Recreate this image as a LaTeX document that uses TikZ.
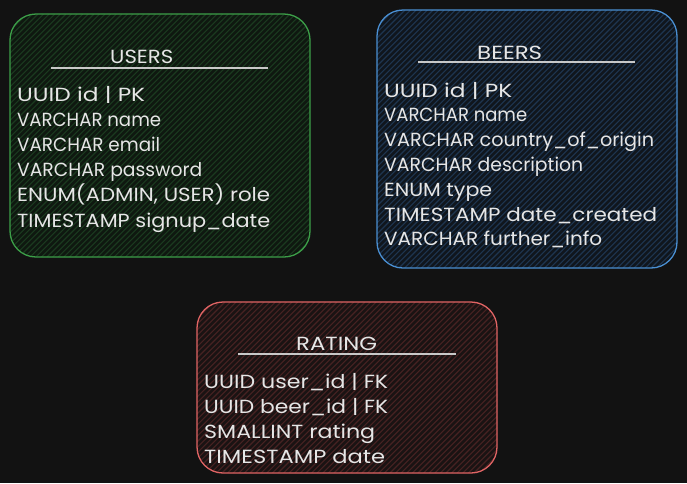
\documentclass[tikz,border=0pt]{standalone}
\usepackage{fontspec}
\setmainfont{Poppins}
\definecolor{bg}{HTML}{121212}
\definecolor{txt}{HTML}{E6E6E6}
\definecolor{gstroke}{HTML}{3C9E48}
\definecolor{ghatch}{HTML}{1B3A1F}
\definecolor{gfill}{HTML}{0F1810}
\definecolor{bstroke}{HTML}{4A8FD2}
\definecolor{bhatch}{HTML}{1E3550}
\definecolor{bfill}{HTML}{10161D}
\definecolor{rstroke}{HTML}{E06464}
\definecolor{rhatch}{HTML}{472222}
\definecolor{rfill}{HTML}{1A1313}
\definecolor{uline}{HTML}{C8C8C8}
\newsavebox{\fitbox}
\newcommand{\fitw}[2]{\sbox{\fitbox}{#2}\pgfmathparse{#1/\wd\fitbox}\scalebox{\pgfmathresult}[1]{\usebox{\fitbox}}}
\tikzset{
  tablebox/.style={rounded corners=26pt, line width=1.3pt},
  hatchline/.style={line width=1.1pt},
  titletext/.style={anchor=base west, text=txt, inner sep=0pt, font=\fontsize{19}{19}\selectfont},
  fieldtext/.style={anchor=base west, text=txt, inner sep=0pt, font=\fontsize{19}{19}\selectfont},
  underl/.style={draw=uline, line width=1.8pt}
}
\newcommand{\hatchbox}[7]{% L T R B fill hatch stroke
  \begin{scope}
    \clip[rounded corners=26pt] (#1,#2) rectangle (#3,#4);
    \fill[#5] (#1,#2) rectangle (#3,#4);
    \pgfmathsetmacro{\hh}{#4-#2}
    \pgfmathsetmacro{\startx}{#1-\hh}
    \pgfmathsetmacro{\nextx}{\startx+5.6}
    \foreach \a in {\startx,\nextx,...,#3} {
      \draw[hatchline, #6] (\a,#4) -- ++(\hh,-\hh);
    }
  \end{scope}
  \draw[tablebox, #7] (#1,#2) rectangle (#3,#4);
}
\begin{document}
\begin{tikzpicture}[x=1pt,y=-1pt]
\fill[bg] (0,0) rectangle (687,483);
\useasboundingbox (0,0) rectangle (687,483);

% USERS
\hatchbox{10}{14}{310}{257}{gfill}{ghatch}{gstroke}
\node[titletext] (usersT) at (110,63) {\fitw{63}{USERS}};
\coordinate (usersUL) at (51,68);
\coordinate (usersUR) at (268,68);
\draw[underl] (usersUL) -- (usersUR);
\foreach \w/\t [count=\i from 0] in {128/UUID id | PK, 144/VARCHAR name, 143/VARCHAR email, 185/VARCHAR password, 253/{ENUM(ADMIN, USER) role}, 253/TIMESTAMP signup\_date} {
  \node[fieldtext] (users\i) at (17,101+25.2*\i) {\fitw{\w}{\t}};
}

% BEERS
\hatchbox{377}{10}{677}{268}{bfill}{bhatch}{bstroke}
\node[titletext] (beersT) at (477,59) {\fitw{65}{BEERS}};
\coordinate (beersUL) at (418,62);
\coordinate (beersUR) at (635,62);
\draw[underl] (beersUL) -- (beersUR);
\foreach \w/\t [count=\i from 0] in {128/UUID id | PK, 143/VARCHAR name, 270/VARCHAR country\_of\_origin, 199/VARCHAR description, 108/ENUM type, 273/TIMESTAMP date\_created, 218/VARCHAR further\_info} {
  \node[fieldtext] (beers\i) at (384,97+24.8*\i) {\fitw{\w}{\t}};
}

% RATING
\hatchbox{197}{302}{497}{473}{rfill}{rhatch}{rstroke}
\node[titletext] (ratingT) at (296,350) {\fitw{81}{RATING}};
\coordinate (ratingUL) at (238,354);
\coordinate (ratingUR) at (456,354);
\draw[underl] (ratingUL) -- (ratingUR);
\foreach \w/\t [count=\i from 0] in {184/UUID user\_id | FK, 184/UUID beer\_id | FK, 171/SMALLINT rating, 181/TIMESTAMP date} {
  \node[fieldtext] (rating\i) at (204,388+25*\i) {\fitw{\w}{\t}};
}
\end{tikzpicture}
\end{document}
